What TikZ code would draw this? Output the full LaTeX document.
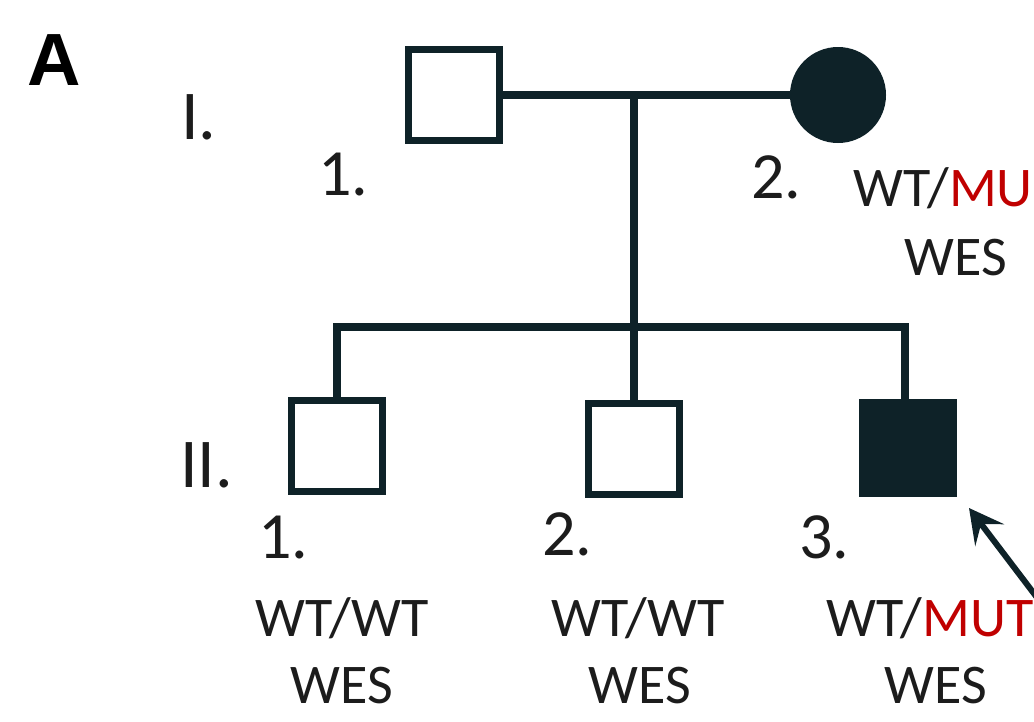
\documentclass[tikz,border=0pt]{standalone}
\usepackage{fontspec}
\setmainfont{Carlito}
\newfontfamily\panelfont{Liberation Sans}
\usetikzlibrary{arrows.meta}
\definecolor{ink}{HTML}{0E2228}
\definecolor{txt}{HTML}{1C1C1C}
\definecolor{mut}{HTML}{C00000}
\tikzset{
  person/.style={draw=ink, line width=7pt, minimum size=91pt, inner sep=0pt, fill=white},
  male/.style={person, rectangle},
  female/.style={person, circle, minimum size=89pt},
  affected/.style={fill=ink},
  line/.style={draw=ink, line width=7.5pt},
  gen/.style={anchor=base west, inner sep=0pt, text=txt, font=\fontsize{70}{70}\selectfont},
  idx/.style={anchor=base west, inner sep=0pt, text=txt, font=\fontsize{66}{66}\selectfont},
  geno/.style={anchor=base, inner sep=0pt, text=txt, font=\fontsize{56}{56}\selectfont},
}
\begin{document}
\begin{tikzpicture}[x=1pt, y=-1pt]
\useasboundingbox (0,0) rectangle (1034,721);
\clip (0,0) rectangle (1034,721);

% panel letter and generation labels
\node[anchor=base west, inner sep=0pt, font=\panelfont\bfseries\fontsize{74}{74}\selectfont] (panel) at (27,85) {A};
\node[gen] (genI) at (181,139) {I.};
\node[gen] (genII) at (180,487) {II.};

% generation I
\node[male] (f) at (454,95) {};
\node[female, affected] (m) at (838,95) {};
\coordinate (mate) at (634,95);
\coordinate (sib) at (634,327);
\draw[line] (f.east) -- (m.west);
\draw[line] (mate) -- (sib);

% generation II
\node[male] (c1) at (337,446) {};
\node[male] (c2) at (634,449) {};
\node[male, affected] (c3) at (908,448) {};
\coordinate (s1) at (337,327);
\coordinate (s3) at (905,327);
\draw[line] (s1 |- c1.north) -- (s1) -- (s3) -- (s3 |- c3.north);
\draw[line] (sib) -- (c2.north);

% individual numbers
\node[idx] (n11) at (318,195) {1.};
\node[idx] (n12) at (751,198) {2.};
\node[idx] (n21) at (258,558) {1.};
\node[idx] (n22) at (542,555) {2.};
\node[idx] (n23) at (799,558) {3.};

% genotypes
\node[geno, anchor=base west] (g12) at (853,206) {WT/\textcolor{mut}{MU}};
\node[geno] (w12) at (956,275) {WES};
\node[geno] (g21) at (342,636) {WT/WT};
\node[geno] (w21) at (342,703) {WES};
\node[geno] (g22) at (638,636) {WT/WT};
\node[geno] (w22) at (640,703) {WES};
\node[geno] (g23) at (930,636) {WT/\textcolor{mut}{MUT}};
\node[geno] (w23) at (936,703) {WES};

% proband arrow
\coordinate (tail) at (1048,612);
\coordinate (tip) at (969,508);
\draw[draw=ink, line width=6pt, -{Stealth[length=34pt, width=36pt, inset=14pt]}] (tail) -- (tip);
\end{tikzpicture}
\end{document}
